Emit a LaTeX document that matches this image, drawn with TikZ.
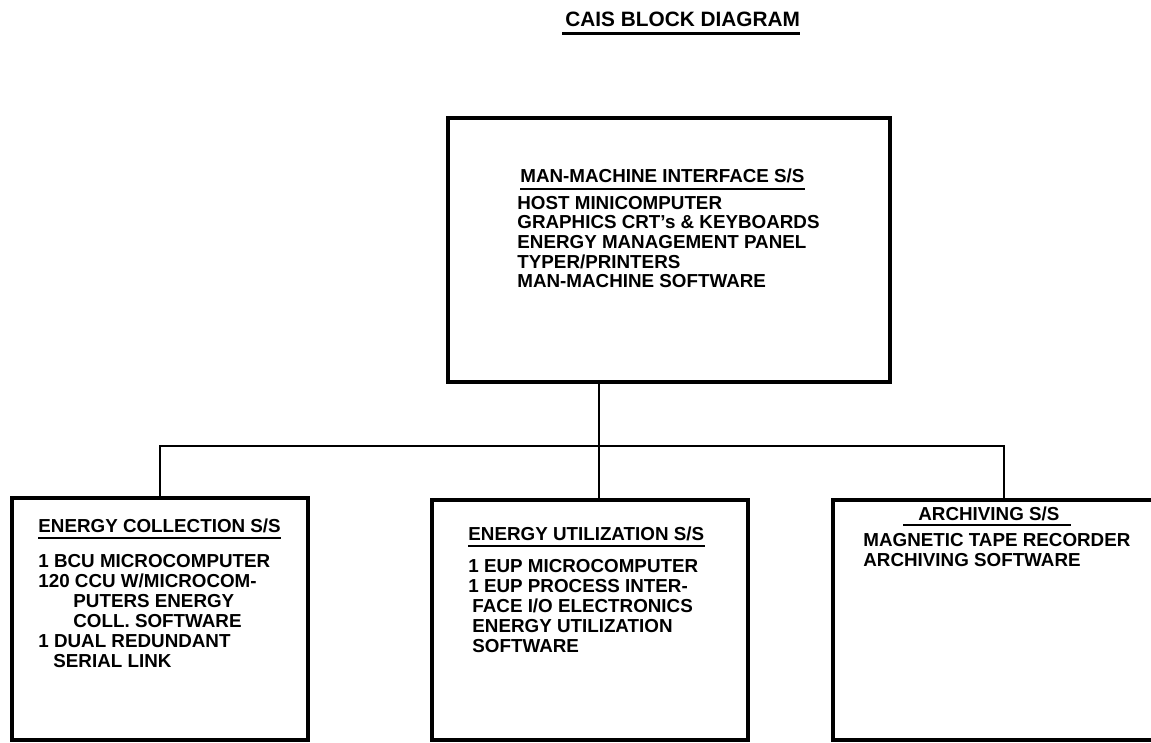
\documentclass[tikz,border=0pt]{standalone}
\usepackage{fontspec}
\setmainfont{Liberation Sans}
\begin{document}
\begin{tikzpicture}[x=0.5pt,y=-0.5pt,
  blockbox/.style={draw,line width=2pt,inner sep=0pt},
  headtxt/.style={inner sep=0pt,anchor=base west,font=\bfseries\fontsize{9.4}{10}\selectfont},
  itemtxt/.style={inner sep=0pt,anchor=north west,align=left,font=\bfseries\fontsize{9.4}{10}\selectfont},
  wire/.style={line width=1.3pt},
  uline/.style={line width=1pt}]
\useasboundingbox (0,0) rectangle (1151,743);
\node[inner sep=0pt,anchor=base west,font=\bfseries\fontsize{10.4}{12}\selectfont] (title) at (565,27) {CAIS BLOCK DIAGRAM};
\draw[line width=1.5pt] ([xshift=-1.5pt,yshift=-3.5pt]title.base west) -- ([yshift=-3.5pt]title.base east);

\node[blockbox,minimum width=221pt,minimum height=132pt] (mmi) at (669,250) {};
\node[blockbox,minimum width=148pt,minimum height=121pt] (ecs) at (160,619) {};
\node[blockbox,minimum width=158pt,minimum height=120pt] (eus) at (590,620) {};
\node[blockbox,minimum width=171pt,minimum height=120pt] (ars) at (1004,620) {};

\coordinate (bus) at (599,446);
\draw[wire] (ecs.north) |- (bus) -| (ars.north);
\draw[wire] (mmi.south -| bus) -- (eus.north -| bus);

\node[headtxt] (hmmi) at (520,183) {MAN-MACHINE INTERFACE S/S};
\node[itemtxt,font=\bfseries\fontsize{9.4}{9.85}\selectfont] (tmmi) at (517,195.5) {HOST MINICOMPUTER\\GRAPHICS CRT's \& KEYBOARDS\\ENERGY MANAGEMENT PANEL\\TYPER/PRINTERS\\MAN-MACHINE SOFTWARE};

\node[headtxt] (hecs) at (38,532) {ENERGY COLLECTION S/S};
\node[itemtxt] (tecs) at (38,553.5) {1 BCU MICROCOMPUTER\\120 CCU W/MICROCOM-\\\hspace{17.5pt}PUTERS ENERGY\\\hspace{17.5pt}COLL. SOFTWARE\\1 DUAL REDUNDANT\\\hspace{7.5pt}SERIAL LINK};

\node[headtxt] (heus) at (468,540) {ENERGY UTILIZATION S/S};
\node[itemtxt] (teus) at (468,558.5) {1 EUP MICROCOMPUTER\\1 EUP PROCESS INTER-\\\hspace{2pt}FACE I/O ELECTRONICS\\\hspace{2pt}ENERGY UTILIZATION\\\hspace{2pt}SOFTWARE};

\node[headtxt] (hars) at (918,520) {ARCHIVING S/S};
\node[itemtxt] (tars) at (863,533) {MAGNETIC TAPE RECORDER\\ARCHIVING SOFTWARE};

\foreach \h in {hmmi,hecs,heus}
  \draw[uline] ([yshift=-3pt]\h.base west) -- ([yshift=-3pt]\h.base east);
\draw[uline] ([xshift=-7.5pt,yshift=-2.5pt]hars.base west) -- ([xshift=5.5pt,yshift=-2.5pt]hars.base east);
\end{tikzpicture}
\end{document}
